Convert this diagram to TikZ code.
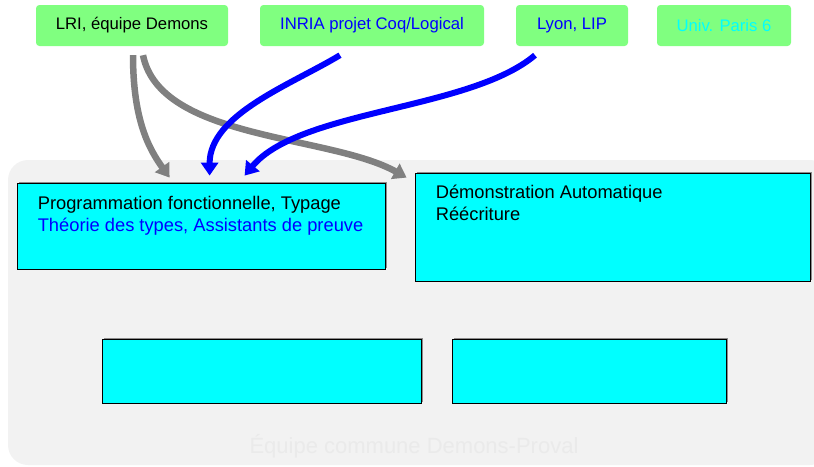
\documentclass[tikz,border=0pt]{standalone}
\usepackage{fontspec}
\setmainfont{Liberation Sans}
\usetikzlibrary{arrows.meta,calc,shadows}
\definecolor{labgreen}{HTML}{80FF80}
\definecolor{themecyan}{HTML}{00FFFF}
\definecolor{puregreyarrow}{HTML}{808080}
\definecolor{teambg}{HTML}{F2F2F2}
\definecolor{teamtext}{HTML}{EAEAEA}
\tikzset{
  labnode/.style={fill=labgreen,rounded corners=1.2mm,minimum height=41pt,inner sep=0pt,align=center,font=\fontsize{16.7}{20}\selectfont},
  themenode/.style={draw=black,line width=0.8pt,fill=themecyan,inner sep=0pt,drop shadow={shadow xshift=1.5pt,shadow yshift=1.5pt,fill=black!45,opacity=1}},
  themetext/.style={anchor=base west,inner sep=0pt,font=\fontsize{18.3}{22}\selectfont},
  greyarrow/.style={-{Triangle[length=13pt,width=17pt]},line width=6.5pt,puregreyarrow},
  bluearrow/.style={-{Triangle[length=13pt,width=17pt]},line width=6pt,blue}
}
\begin{document}
\begin{tikzpicture}[x=1pt,y=-1pt]
\useasboundingbox (0,0) rectangle (814,466);
% shared team area
\begin{scope}
\clip (0,0) rectangle (814,466);
\fill[teambg,rounded corners=20pt] (8,160) rectangle (830,465);
\end{scope}
\node[font=\fontsize{22}{26}\selectfont,text=teamtext] (teamlabel) at (414,446) {Équipe commune Demons-Proval};

% origin labs
\node[labnode,minimum width=192pt] (lri) at (132,25.5) {LRI, équipe Demons};
\node[labnode,minimum width=224pt,text=blue] (inria) at (372,25.5) {INRIA projet Coq/Logical};
\node[labnode,minimum width=112pt,text=blue] (lyon) at (572,25.5) {Lyon, LIP};
\node[labnode,minimum width=134pt,text=themecyan] (paris) at (724,25.5) {Univ. Paris 6};

% research themes
\node[themenode,minimum width=368pt,minimum height=86pt] (prog) at (201,226) {};
\node[themenode,minimum width=395pt,minimum height=108pt] (demo) at (612.5,227) {};
\node[themenode,minimum width=319pt,minimum height=64pt] (themethree) at (261.5,371) {};
\node[themenode,minimum width=274pt,minimum height=64pt] (themefour) at (589,371) {};

\node[themetext] (progone) at ($(prog.north west)+(21,27)$) {Programmation fonctionnelle, Typage};
\node[themetext,text=blue] (progtwo) at ($(prog.north west)+(21,49)$) {Théorie des types, Assistants de preuve};
\node[themetext] (demoone) at ($(demo.north west)+(21,26)$) {Démonstration Automatique};
\node[themetext] (demotwo) at ($(demo.north west)+(21,48)$) {Réécriture};

% who feeds what
\draw[greyarrow] ($(lri.south)+(1,9)$) .. controls ($(lri.south)+(1,75)$) and ($(prog.north west)+(133,-33)$) .. ($(prog.north west)+(153,-5)$);
\draw[greyarrow] ($(lri.south)+(11,9)$) .. controls ($(lri.south)+(28,94)$) and ($(demo.north west)+(-85,-38)$) .. ($(demo.north west)+(-8,5)$);
\draw[bluearrow] ($(inria.south)+(-32,9)$) .. controls ($(inria.south)+(-82,39)$) and ($(prog.north west)+(193,-68)$) .. ($(prog.north west)+(193,-7)$);
\draw[bluearrow] ($(lyon.south)+(-37,9)$) .. controls ($(lyon.south)+(-102,64)$) and ($(prog.north west)+(283,-73)$) .. ($(prog.north west)+(228,-7)$);
\end{tikzpicture}
\end{document}
